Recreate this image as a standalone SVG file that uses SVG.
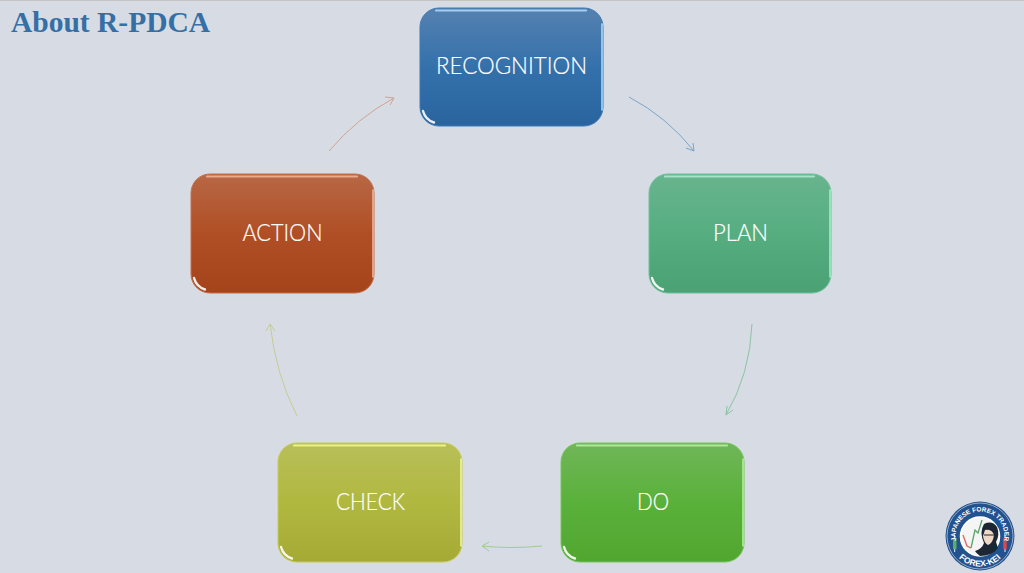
<svg xmlns="http://www.w3.org/2000/svg" width="1024" height="573" viewBox="0 0 1024 573">
<style>
.lbl{font-family:"Lato","Open Sans",sans-serif;font-weight:300;font-size:24px;fill:#fff;stroke:#fff;stroke-width:.2;text-anchor:middle}
.rim{fill:none;stroke-linecap:round;stroke-width:2.200;filter:url(#soft)}
.side{fill:none;stroke-linecap:round;stroke-width:1.600;filter:url(#soft)}
.glint{fill:none;stroke:#fff;stroke-width:2.400;stroke-linecap:round;opacity:.9;filter:url(#soft)}
.arr{fill:none;stroke-width:1}
.logo-text{font-family:"Liberation Sans",sans-serif;font-weight:700;fill:#fff;text-anchor:middle}
</style>
<defs>
<filter id="soft" filterUnits="userSpaceOnUse" x="0" y="0" width="1024" height="573"><feGaussianBlur stdDeviation=".5"/></filter>
<linearGradient id="gB" x1="0" y1="0" x2="0" y2="1"><stop offset="0" stop-color="#5581b0"/><stop offset=".5" stop-color="#3471ab"/><stop offset="1" stop-color="#29649f"/></linearGradient>
<linearGradient id="gT" x1="0" y1="0" x2="0" y2="1"><stop offset="0" stop-color="#68b48e"/><stop offset=".5" stop-color="#56ae80"/><stop offset="1" stop-color="#4aa274"/></linearGradient>
<linearGradient id="gG" x1="0" y1="0" x2="0" y2="1"><stop offset="0" stop-color="#70b658"/><stop offset=".5" stop-color="#5ab13a"/><stop offset="1" stop-color="#51a630"/></linearGradient>
<linearGradient id="gY" x1="0" y1="0" x2="0" y2="1"><stop offset="0" stop-color="#b8bf58"/><stop offset=".5" stop-color="#b1b840"/><stop offset="1" stop-color="#a5aa35"/></linearGradient>
<linearGradient id="gR" x1="0" y1="0" x2="0" y2="1"><stop offset="0" stop-color="#b86745"/><stop offset=".5" stop-color="#b04f25"/><stop offset="1" stop-color="#a5431b"/></linearGradient>
<path id="arcTop" d="M958.800 548.250A24.500 24.500 0 1 1 1001.200 548.250"/>
<path id="arcBot" d="M950.100 542A30.500 30.500 0 0 0 1009.900 542"/>
</defs>
<rect width="1024" height="573" fill="#d7dbe4"/>
<rect width="1024" height="1" fill="#c4c4c4"/>
<text x="11" y="32" font-family="'Liberation Serif',serif" font-weight="700" font-size="29.500px" fill="#3470a6">About R-PDCA</text>

<g id="connectors">
<g stroke="#7ba5ca" class="arr"><path d="M629 97Q667 117 694 151"/><path d="M686 148L694 151L693 143"/></g>
<g stroke="#8cc3a5" class="arr"><path d="M752 324Q750 374 726 415"/><path d="M727 406L726 415L733 410"/></g>
<g stroke="#a0cd8e" class="arr"><path d="M542 546Q510 549 482 546"/><path d="M489 542L482 546L489 551"/></g>
<g stroke="#c4cd95" class="arr"><path d="M297 416Q276 375 270 324"/><path d="M266 331L270 324L275 331"/></g>
<g stroke="#d0a391" class="arr"><path d="M329 151Q357 118 394 98"/><path d="M385 97L394 98L390 105"/></g>
</g>

<g id="node-recognition">
<rect x="420" y="8" width="183" height="118" rx="19" fill="url(#gB)" stroke="#3d7ab5"/>
<path class="rim" stroke="#a5cdf0" d="M436 10.500H586"/>
<path class="side" stroke="#a8d8fa" d="M602 24V110"/>
<path class="glint" d="M423 111A16.500 16.500 0 0 0 434 122.500"/>
<text class="lbl" x="511.500" y="74" textLength="151" lengthAdjust="spacingAndGlyphs">RECOGNITION</text>
</g>
<g id="node-plan">
<rect x="649" y="174" width="182" height="119" rx="19" fill="url(#gT)" stroke="#6cc19b"/>
<path class="rim" stroke="#a6e4c6" d="M665 176.500H814"/>
<path class="side" stroke="#a5ecc9" d="M830 190V277"/>
<path class="glint" d="M652 278A16.500 16.500 0 0 0 663 289.500"/>
<text class="lbl" x="740.500" y="241" textLength="55" lengthAdjust="spacingAndGlyphs">PLAN</text>
</g>
<g id="node-do">
<rect x="561" y="443" width="183" height="119" rx="19" fill="url(#gG)" stroke="#76c65a"/>
<path class="rim" stroke="#b0e79a" d="M577 445.500H727"/>
<path class="side" stroke="#b0f096" d="M743 459V546"/>
<path class="glint" d="M564 547A16.500 16.500 0 0 0 575 558.500"/>
<text class="lbl" x="653" y="510" textLength="32" lengthAdjust="spacingAndGlyphs">DO</text>
</g>
<g id="node-check">
<rect x="278" y="443" width="184" height="119" rx="19" fill="url(#gY)" stroke="#c4cc52"/>
<path class="rim" stroke="#ecf28c" d="M294 445.500H445"/>
<path class="side" stroke="#f0f59a" d="M461 459V546"/>
<path class="glint" d="M281 547A16.500 16.500 0 0 0 292 558.500"/>
<text class="lbl" x="370.500" y="510" textLength="69" lengthAdjust="spacingAndGlyphs">CHECK</text>
</g>
<g id="node-action">
<rect x="191" y="174" width="183" height="119" rx="19" fill="url(#gR)" stroke="#c4704c"/>
<path class="rim" stroke="#eca98c" d="M207 176.500H357"/>
<path class="side" stroke="#f0b598" d="M373 190V277"/>
<path class="glint" d="M194 278A16.500 16.500 0 0 0 205 289.500"/>
<text class="lbl" x="282.500" y="241" textLength="80" lengthAdjust="spacingAndGlyphs">ACTION</text>
</g>

<g id="logo">
<circle cx="980" cy="536" r="34.500" fill="#22528f"/>
<circle cx="980" cy="536" r="33" fill="none" stroke="#dfe6ef" stroke-width=".6"/>
<circle cx="980" cy="536.500" r="19.500" fill="#f4f5f4" stroke="#fff" stroke-width="1.500"/>
<path d="M984 524Q992 520 997 527Q1000 535 996 542L998 548Q992 556 980 556Q976 553 975 551Q982 549 984 543Q979 532 984 524Z" fill="#1d2633"/>
<path d="M985 530Q992 529 994 535Q993 543 988 545Q984 543 983 536Z" fill="#eed9c6"/>
<path d="M984 535H994" stroke="#222" stroke-width="1"/>
<path d="M963 535L967 546L971 548" fill="none" stroke="#d9695a" stroke-width="1.300"/>
<path d="M971 548L975 530L978 533L982 520" fill="none" stroke="#5aa46a" stroke-width="1.300"/>
<path d="M954.700 535v17M1005 535v17" stroke-width="1" stroke="#e8eef5"/>
<rect x="953" y="538" width="3.500" height="11" fill="#58b160"/>
<rect x="1003.200" y="538" width="3.500" height="11" fill="#d94a45"/>
<text class="logo-text" font-size="6.400px"><textPath href="#arcTop" startOffset="50%">JAPANESE FOREX TRADER</textPath></text>
<text class="logo-text" font-size="8.500px"><textPath href="#arcBot" startOffset="50%">FOREX-KEI</textPath></text>
</g>
</svg>
